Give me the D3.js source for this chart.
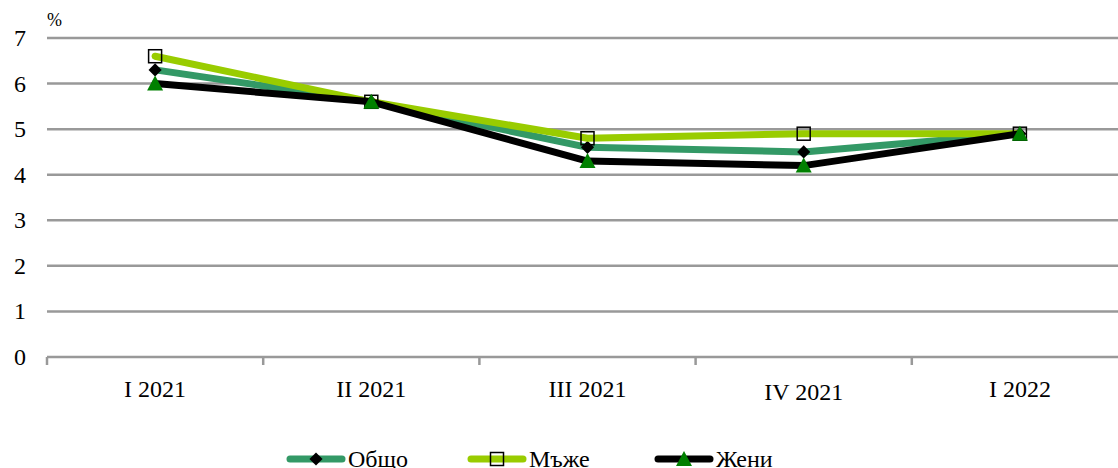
<!DOCTYPE html>
<html><head><meta charset="utf-8">
<script src="https://cdn.jsdelivr.net/npm/d3@7"></script>
<style>body{margin:0;background:#fff}text{font-family:'Liberation Serif','Times New Roman','DejaVu Serif',serif}</style>
</head><body><svg id="c" width="1118" height="468"></svg>
<script>
const categories = ["I 2021","II 2021","III 2021","IV 2021","I 2022"];
const total = [6.3,5.6,4.6,4.5,4.9];
const men = [6.6,5.6,4.8,4.9,4.9];
const women = [6.0,5.6,4.3,4.2,4.9];
const yTicks = [0,1,2,3,4,5,6,7];
const seriesNames = ["Общо","Мъже","Жени"];
const FONT = "Liberation Serif, Times New Roman, serif";
const FS = 24;

const svg = d3.select("#c");
const x = d3.scaleBand().domain(categories).range([47, 1128]);
const y = d3.scaleLinear().domain([0,7]).range([357, 38]);

svg.append("g").selectAll("line").data(yTicks.filter(d=>d>0)).join("line")
  .attr("x1",47).attr("x2",1128).attr("y1",d=>y(d)).attr("y2",d=>y(d))
  .attr("stroke","#999").attr("stroke-width",2.5);
svg.append("g").selectAll("text").data(yTicks).join("text")
  .attr("font-family",FONT)
  .attr("x",26).attr("y",d=>y(d)+8).attr("text-anchor","end")
  .attr("font-size",FS).attr("fill","#000").text(d=>d);
svg.append("text").attr("font-family",FONT).attr("x",47).attr("y",26).attr("font-size",18).text("%");
svg.append("line").attr("x1",47).attr("x2",1128).attr("y1",y(0)).attr("y2",y(0))
  .attr("stroke","#999").attr("stroke-width",2.5);
const bounds = categories.map(c=>x(c)).concat([x.range()[1]]);
svg.append("g").selectAll("line").data(bounds).join("line")
  .attr("x1",d=>d).attr("x2",d=>d).attr("y1",y(0)).attr("y2",y(0)+8)
  .attr("stroke","#999").attr("stroke-width",2.5);
svg.append("g").selectAll("text").data(categories).join("text")
  .attr("font-family",FONT)
  .attr("x",d=>x(d)+x.bandwidth()/2).attr("y",(d,i)=>i===3?400:397)
  .attr("text-anchor","middle").attr("font-size",FS).text(d=>d);

const series = [
  {name:seriesNames[0], vals:total, color:"#339966", marker:"diamond"},
  {name:seriesNames[1], vals:men, color:"#99CC00", marker:"square"},
  {name:seriesNames[2], vals:women, color:"#000000", marker:"triangle"}
];
const cx = c => x(c)+x.bandwidth()/2;
const line = d3.line().x((d,i)=>cx(categories[i])).y(d=>y(d));

function drawMarker(g, type, px, py){
  if(type==="diamond"){
    g.append("path").attr("d",d3.symbol(d3.symbolDiamond2,110)()).attr("transform",`translate(${px},${py})`)
      .attr("fill","#000");
  } else if(type==="square"){
    g.append("rect").attr("x",px-6.5).attr("y",py-6.5).attr("width",13).attr("height",13)
      .attr("fill","none").attr("stroke","#000").attr("stroke-width",1.5);
  } else {
    g.append("path").attr("d",`M${px},${py-8}L${px+8},${py+7}L${px-8},${py+7}Z`).attr("fill","#008000");
  }
}

series.forEach(s=>{
  const g = svg.append("g");
  g.append("path").attr("d",line(s.vals)).attr("fill","none").attr("stroke",s.color)
    .attr("stroke-width",7).attr("stroke-linecap","round").attr("stroke-linejoin","round");
  s.vals.forEach((v,i)=>drawMarker(g,s.marker,cx(categories[i]),y(v)));
});

const legX = [287, 468, 655];
series.forEach((s,i)=>{
  const g = svg.append("g");
  const x0 = legX[i], ly = 459;
  g.append("line").attr("x1",x0+3).attr("x2",x0+55).attr("y1",ly).attr("y2",ly)
    .attr("stroke",s.color).attr("stroke-width",7).attr("stroke-linecap","round");
  drawMarker(g,s.marker,x0+29,ly);
  g.append("text").attr("font-family",FONT).attr("x",x0+61).attr("y",ly+8).attr("font-size",FS).text(s.name);
});
</script></body></html>
